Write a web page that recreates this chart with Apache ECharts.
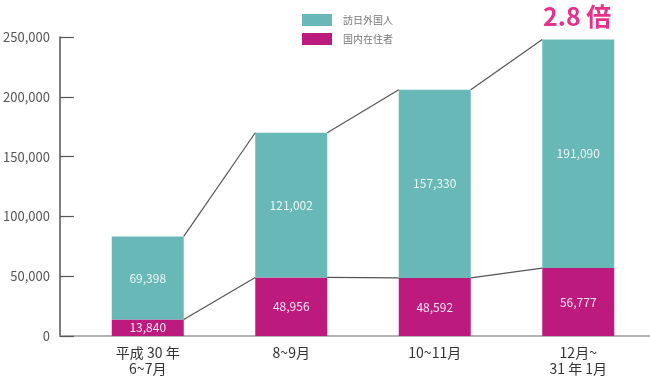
<!DOCTYPE html>
<html><head><meta charset="utf-8">
<script src="https://cdn.jsdelivr.net/npm/echarts@6/dist/echarts.min.js"></script>
<style>html,body{margin:0;padding:0;background:#fff}#c{width:650px;height:382px}</style>
</head><body><div id="c"></div>
<script>
const categories = ['平成 30 年\n6~7月', '8~9月', '10~11月', '12月~\n31 年 1月'];
const visitors = [69398, 121002, 157330, 191090];
const residents = [13840, 48956, 48592, 56777];
const seriesNames = ['訪日外国人', '国内在住者'];
const yTicks = { min: 0, max: 250000, interval: 50000 };
const ratioText = '2.8 倍';

const totals = visitors.map((v, i) => v + residents[i]);
const BAR_W = 72;
const font = '"Noto Sans CJK JP", "Noto Sans", sans-serif';
const fmt = v => v.toLocaleString('en-US');

function connector(values) {
  const data = [];
  for (let i = 0; i < values.length - 1; i++) data.push([i, values[i], values[i + 1]]);
  return data;
}
function renderConn(params, api) {
  const i = api.value(0);
  const p1 = api.coord([i, api.value(1)]);
  const p2 = api.coord([i + 1, api.value(2)]);
  return {
    type: 'line',
    shape: { x1: p1[0] + BAR_W / 2, y1: p1[1], x2: p2[0] - BAR_W / 2, y2: p2[1] },
    style: { stroke: '#555', lineWidth: 1.2 }
  };
}

const chart = echarts.init(document.getElementById('c'), null, { renderer: 'canvas' });
chart.setOption({
  animation: false,
  textStyle: { fontFamily: font },
  grid: [
    { left: 76, right: 0, top: 37, bottom: 46 },
    { left: 57, right: 0, top: 37, bottom: 46 }
  ],
  legend: {
    orient: 'vertical', left: 297, top: 9, itemWidth: 30, itemHeight: 12, itemGap: 7,
    icon: 'rect', data: seriesNames,
    textStyle: { fontSize: 10, color: '#777', padding: [0, 0, 0, 6] }
  },
  xAxis: [
    { type: 'category', gridIndex: 0, data: categories,
      axisLine: { show: false }, axisTick: { show: false },
      axisLabel: { color: '#333', fontSize: 14, lineHeight: 16, margin: 9 } },
    { type: 'value', gridIndex: 1, min: 0, max: 1,
      axisLine: { show: true, onZero: false, lineStyle: { color: '#9a9a9a', width: 1.5 } },
      axisTick: { show: false }, axisLabel: { show: false }, splitLine: { show: false } }
  ],
  yAxis: [
    { type: 'value', gridIndex: 0, min: yTicks.min, max: yTicks.max, interval: yTicks.interval, show: false },
    { type: 'value', gridIndex: 1, min: yTicks.min, max: yTicks.max, interval: yTicks.interval,
      axisLine: { show: true, lineStyle: { color: '#555', width: 1.5 } },
      axisTick: { show: true, inside: true, length: 14, lineStyle: { color: '#555', width: 1.2 } },
      splitLine: { show: false },
      axisLabel: { color: '#555', fontSize: 13, margin: 10, formatter: v => fmt(v) } }
  ],
  series: [
    { name: seriesNames[1], type: 'bar', stack: 'a', barWidth: BAR_W, data: residents,
      itemStyle: { color: '#bd1a7e' },
      label: { show: true, position: 'inside', color: 'rgba(255,255,255,0.88)', fontSize: 12, formatter: p => fmt(p.value) } },
    { name: seriesNames[0], type: 'bar', stack: 'a', barWidth: BAR_W, data: visitors,
      itemStyle: { color: '#67b8b7' },
      label: { show: true, position: 'inside', color: 'rgba(255,255,255,0.88)', fontSize: 12, formatter: p => fmt(p.value) } },
    { type: 'custom', renderItem: renderConn, data: connector(totals), z: 5, silent: true },
    { type: 'custom', renderItem: renderConn, data: connector(residents), z: 5, silent: true }
  ],
  graphic: [
    { type: 'text', left: 543, top: 4,
      style: { text: ratioText, fill: '#e5318b', font: 'bold 25px ' + font } }
  ]
});
</script></body></html>
